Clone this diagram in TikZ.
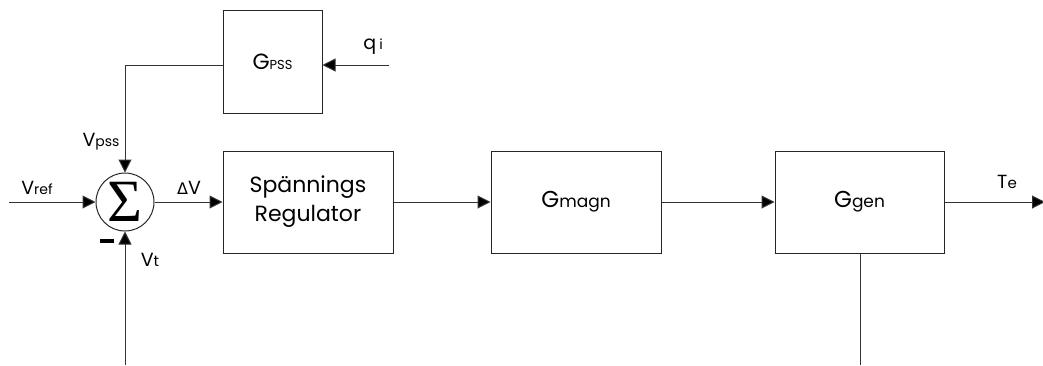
\documentclass[tikz,border=0pt]{standalone}
\usepackage{fontspec}
\setmainfont{Poppins}
\newfontfamily\symfont{DejaVu Sans}
\newfontfamily\sumfont{Liberation Serif}
\usetikzlibrary{arrows.meta}
\begin{document}
\begin{tikzpicture}[x=1pt,y=-1pt,
  wire/.style={draw=black!80,line width=1pt},
  sig/.style={wire,-{Triangle[length=13pt,width=13pt,fill=black]}},
  blk/.style={draw=black!85,line width=1pt,rectangle,inner sep=0pt,align=center},
  lbl/.style={inner sep=0pt,font=\fontsize{19}{22}\selectfont},
  btxt/.style={font=\fontsize{22}{29}\selectfont}]
\useasboundingbox (0,0) rectangle (1043,365);

% blocks
\node[blk,minimum width=99pt,minimum height=103pt] (gpss) at (272.5,61.5)
  {\fontsize{22}{24}\selectfont G{\fontsize{13}{15}\selectfont PSS}};
\node[blk,minimum width=170pt,minimum height=102pt,btxt] (reg) at (308,202)
  {Spännings\\Regulator};
\node[blk,minimum width=170pt,minimum height=102pt] (magn) at (576,202)
  {\fontsize{23}{24}\selectfont G{\fontsize{17}{18}\selectfont magn}};
\node[blk,minimum width=169pt,minimum height=102pt] (gen) at (859.5,202)
  {\fontsize{23}{24}\selectfont G{\fontsize{17}{18}\selectfont gen}};

% summing junction
\node[draw=black!85,line width=1pt,circle,minimum size=58pt,inner sep=0pt] (sum) at (125,202)
  {\sumfont\fontsize{60}{60}\selectfont\raisebox{-3pt}{Σ}};

% free ends
\coordinate (qin) at (389,65);
\coordinate (vrefin) at (9,202);
\coordinate (vtin) at (125,365);
\coordinate (genout) at (860,365);
\coordinate (teout) at (1045,202);
\coordinate (bend) at (125,65);

% connectors
\draw[sig] (qin) -- (qin -| gpss.east);
\draw[sig] (qin -| gpss.west) -- (bend) -- (sum.north);
\draw[sig] (vrefin) -- (sum.west);
\draw[sig] (vtin) -- (sum.south);
\draw[sig] (sum.east) -- (reg.west);
\draw[sig] (reg.east) -- (magn.west);
\draw[sig] (magn.east) -- (gen.west);
\draw[sig] (gen.east) -- (teout);
\draw[wire] (gen.south -| genout) -- (genout);

% labels
\node[lbl] (lq) at (373,47) {q\,{\fontsize{14}{15}\selectfont i}};
\node[lbl] (lvpss) at (101,142) {V{\fontsize{14}{15}\selectfont pss}};
\node[lbl] (lvref) at (37,188) {V{\fontsize{14}{15}\selectfont ref}};
\node[lbl] (ldv) at (189,188) {{\symfont\fontsize{16}{18}\selectfont Δ}V};
\node[lbl] (lvt) at (150,260) {V{\fontsize{15}{15}\selectfont t}};
\node[lbl] (lte) at (1007,182) {T{\fontsize{15}{15}\selectfont e}};
\node[fill=black,minimum width=14pt,minimum height=4.5pt,inner sep=0pt] (minus) at (107,241) {};
\end{tikzpicture}
\end{document}
